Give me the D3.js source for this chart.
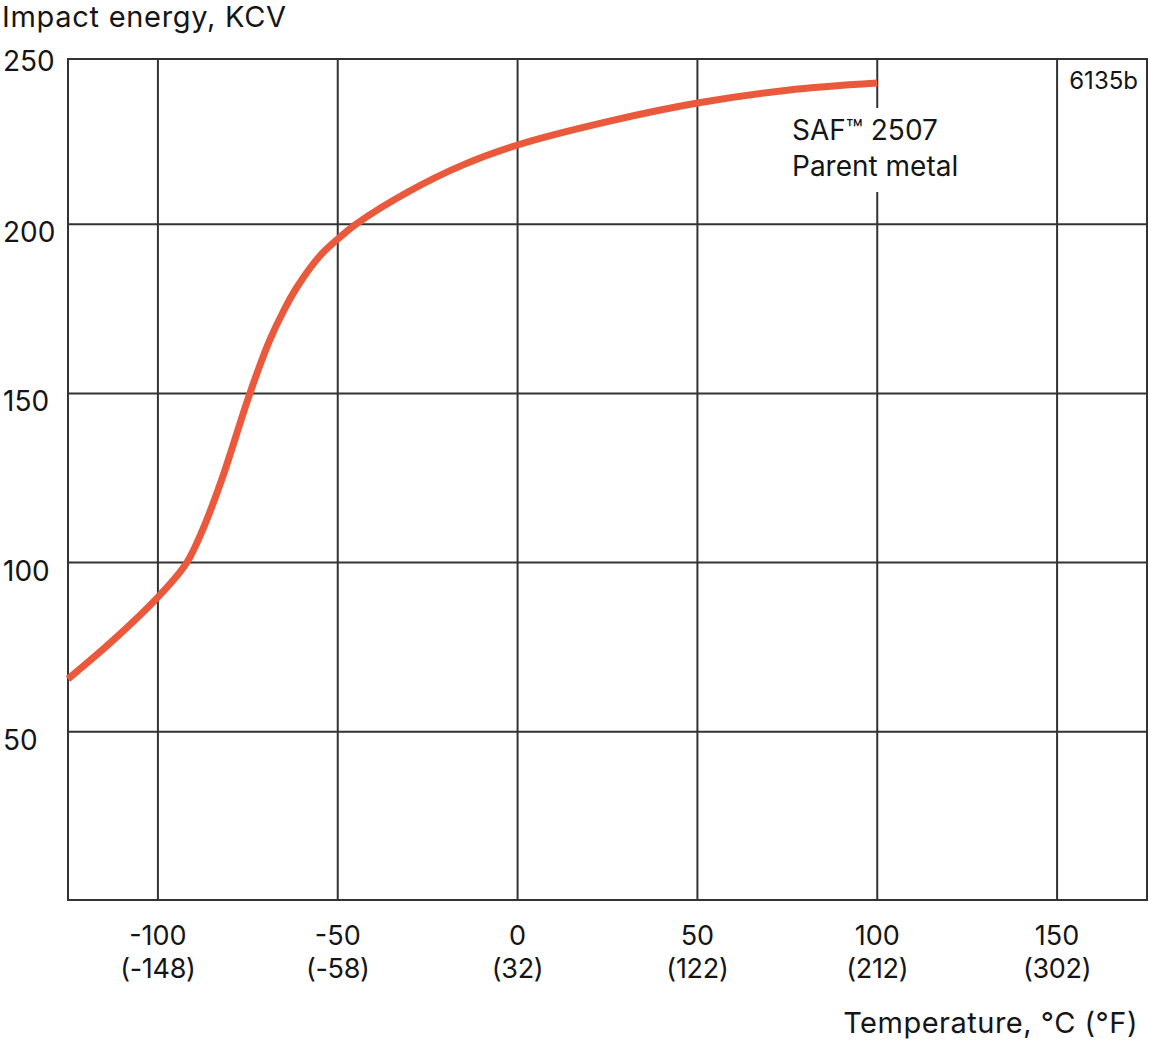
<!DOCTYPE html>
<html>
<head>
<meta charset="utf-8">
<script src="https://cdn.jsdelivr.net/npm/d3@7/dist/d3.min.js"></script>
<style>
  html, body { margin: 0; padding: 0; background: #fff; }
  svg { display: block; }
  text { font-family: Inter, "Liberation Sans", sans-serif; fill: #151515; }
</style>
</head>
<body>
<svg id="chart" width="1149" height="1042"></svg>
<script>
// ---- data ----
const temperatureC = [-125, -112.5, -100, -92.2, -87.6, -82.3, -74.5, -69, -65, -61.4, -55, -50, -44.8, -30, -15, 0, 25, 50, 75, 100];
const impactEnergy = [65.6, 77, 89.8, 99.6, 109.6, 124.4, 149.8, 165.5, 174.5, 181.3, 190.6, 195.6, 200.1, 209.8, 217.6, 223.4, 230.3, 235.8, 239.6, 241.7];
const xTicksC = [-100, -50, 0, 50, 100, 150];
const xTickLabelsF = ["(-148)", "(-58)", "(32)", "(122)", "(212)", "(302)"];
const yTicks = [50, 100, 150, 200, 250];
const seriesLabel = ["SAF\u2122 2507", "Parent metal"];
const yAxisTitle = "Impact energy, KCV";
const xAxisTitle = "Temperature, \u00b0C (\u00b0F)";
const figureCode = "6135b";

// ---- layout ----
const svg = d3.select("#chart");
const frame = { left: 68, right: 1147, top: 59, bottom: 900 };
const x = d3.scaleLinear().domain([-125, 175]).range([frame.left, frame.right]);
const y = d3.scaleLinear().domain([0, 250]).range([901, 55]);
const gridColor = "#333";

// gridlines
svg.append("g").selectAll("line").data(xTicksC).join("line")
  .attr("x1", d => x(d)).attr("x2", d => x(d))
  .attr("y1", frame.top).attr("y2", frame.bottom)
  .attr("stroke", gridColor).attr("stroke-width", 2);
svg.append("g").selectAll("line").data(yTicks.filter(d => d < 250)).join("line")
  .attr("x1", frame.left).attr("x2", frame.right)
  .attr("y1", d => y(d)).attr("y2", d => y(d))
  .attr("stroke", gridColor).attr("stroke-width", 2);

// frame
svg.append("rect")
  .attr("x", frame.left).attr("y", frame.top)
  .attr("width", frame.right - frame.left).attr("height", frame.bottom - frame.top)
  .attr("fill", "none").attr("stroke", gridColor).attr("stroke-width", 2);

// label background (interrupts gridline)
svg.append("rect").attr("x", 786).attr("y", 108).attr("width", 180).attr("height", 84).attr("fill", "#fff");

// curve
const pts = temperatureC.map((t, i) => [t, impactEnergy[i]]);
svg.append("path")
  .datum(pts)
  .attr("fill", "none")
  .attr("stroke", "#eb593c")
  .attr("stroke-width", 7)
  .attr("d", d3.line().x(d => x(d[0])).y(d => y(d[1])).curve(d3.curveCatmullRom.alpha(0.5)));

// y tick labels
svg.append("g").selectAll("text").data(yTicks).join("text")
  .attr("x", 3)
  .attr("y", d => (d === 250 ? y(d) + 16 : y(d) + 18))
  .attr("font-size", 28)
  .text(d => d);

// x tick labels
const xl = svg.append("g").selectAll("g").data(xTicksC).join("g");
xl.append("text")
  .attr("x", d => x(d)).attr("y", 945)
  .attr("text-anchor", "middle").attr("font-size", 27)
  .text(d => d);
xl.append("text")
  .attr("x", d => x(d)).attr("y", 978)
  .attr("text-anchor", "middle").attr("font-size", 27).attr("letter-spacing", -0.3)
  .text((d, i) => xTickLabelsF[i]);

// titles
svg.append("text").attr("x", 2).attr("y", 27).attr("font-size", 29).attr("letter-spacing", 0.7).text(yAxisTitle);
svg.append("text").attr("x", 1138).attr("y", 1033).attr("text-anchor", "end").attr("font-size", 29).attr("letter-spacing", 0.5).text(xAxisTitle);
svg.append("text").attr("x", 1138).attr("y", 89).attr("text-anchor", "end").attr("font-size", 24).text(figureCode);

// series label
svg.append("g").selectAll("text").data(seriesLabel).join("text")
  .attr("x", 792).attr("y", (d, i) => 140 + i * 36)
  .attr("font-size", 28)
  .text(d => d);
</script>
</body>
</html>
